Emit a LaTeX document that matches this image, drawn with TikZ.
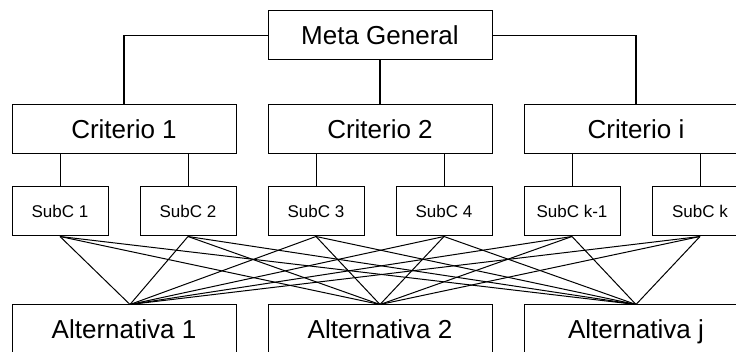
\documentclass[tikz,border=0pt]{standalone}
\usepackage{fontspec}
\setmainfont{Liberation Sans}
\usetikzlibrary{positioning}

\begin{document}
\begin{tikzpicture}[
        node distance=31pt,
        bigbox/.style={draw, line width=1pt, minimum width=224pt, minimum height=49pt,
          inner sep=0pt, text height=18.7pt, text depth=0pt,
          font=\fontsize{26}{30}\selectfont},
        subbox/.style={draw, line width=1pt, minimum width=96pt, minimum height=49pt,
          inner sep=0pt, text height=12.2pt, text depth=0pt,
          font=\fontsize{17}{20}\selectfont},
        bus/.style={line width=1.8pt},
        wire/.style={line width=1pt}
      ]
        \useasboundingbox (0,0) rectangle (736pt,-352pt);
        \node[bigbox] (meta) at (380pt,-35.5pt) {Meta General};
        \node[bigbox, below=44pt of meta] (crit2) {Criterio 2};
        \node[bigbox, left=of crit2] (crit1) {Criterio 1};
        \node[bigbox, right=of crit2] (criti) {Criterio i};
        \node[subbox, below right=32pt and 0pt of crit1.south west] (sub1) {SubC 1};
        \node[subbox, below left=32pt and 0pt of crit1.south east] (sub2) {SubC 2};
        \node[subbox, below right=32pt and 0pt of crit2.south west] (sub3) {SubC 3};
        \node[subbox, below left=32pt and 0pt of crit2.south east] (sub4) {SubC 4};
        \node[subbox, below right=32pt and 0pt of criti.south west] (subk1) {SubC k-1};
        \node[subbox, below left=32pt and 0pt of criti.south east] (subk) {SubC k};
        \node[bigbox, below=150pt of crit1] (alt1) {Alternativa 1};
        \node[bigbox, below=150pt of crit2] (alt2) {Alternativa 2};
        \node[bigbox, below=150pt of criti] (altj) {Alternativa j};
        \draw[bus] (meta.west) -| (crit1.north);
        \draw[bus] (meta.east) -| (criti.north);
        \draw[bus] (meta.south) -- (crit2.north);
        \foreach \c/\s in {crit1/sub1, crit1/sub2, crit2/sub3, crit2/sub4, criti/subk1, criti/subk}
          \draw[wire] (\s.north) -- (\s.north |- \c.south);
        \coordinate (top1) at ([xshift=6pt]alt1.north);
        \coordinate (top2) at (alt2.north);
        \coordinate (top3) at (altj.north);
        \foreach \s in {sub1, sub2, sub3, sub4, subk1, subk}
          \foreach \a in {top1, top2, top3}
            \draw[wire] (\s.south) -- (\a);
      \end{tikzpicture}
\end{document}
